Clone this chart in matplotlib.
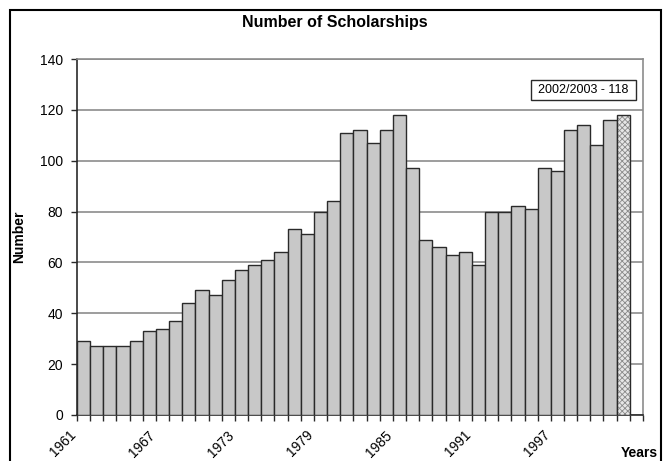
import numpy as np
import matplotlib.pyplot as plt
import matplotlib.transforms as mtransforms
from matplotlib.patches import Rectangle

plt.rcParams['font.family'] = ['Liberation Sans', 'DejaVu Sans']
plt.rcParams['hatch.linewidth'] = 0.6

years = list(range(1961, 2003))
scholarships = [29, 27, 27, 27, 29, 33, 34, 37, 44, 49, 47, 53, 57, 59, 61, 64,
                73, 71, 80, 84, 111, 112, 107, 112, 118, 97, 69, 66, 63, 64, 59,
                80, 80, 82, 81, 97, 96, 112, 114, 106, 116, 118]
label_years = [1961, 1967, 1973, 1979, 1985, 1991, 1997]
y_ticks = [0, 20, 40, 60, 80, 100, 120, 140]

fig = plt.figure(figsize=(6.67, 4.61), dpi=100)
ax = fig.add_axes([0.1154, 0.0998, 0.8486, 0.7722])

x = np.arange(len(years))
# ordinary years
ax.bar(x[:-1], scholarships[:-1], width=1.0, align='edge', color='#c8c8c8',
       edgecolor='#2a2a2a', linewidth=1.0, zorder=3)
# latest year, hatched
ax.bar(x[-1:], scholarships[-1:], width=1.0, align='edge', color='#e6e6e6',
       edgecolor='#8a8a8a', hatch='xxxxxx', linewidth=0, zorder=3)
ax.bar(x[-1:], scholarships[-1:], width=1.0, align='edge', fill=False,
       edgecolor='#2a2a2a', linewidth=1.0, zorder=4)

ax.set_xlim(0, len(years) + 1)
ax.set_ylim(0, 140)
ax.set_yticks(y_ticks)
ax.set_yticklabels([str(v) for v in y_ticks], fontsize=10)
ax.yaxis.grid(True, color='#8c8c8c', linewidth=1.2, zorder=0)
ax.set_axisbelow(True)

# category boundaries as tick marks
ax.set_xticks(np.arange(0, len(years) + 2))
ax.set_xticklabels([])
ax.tick_params(axis='x', length=4, width=1, color='#2a2a2a')
ax.tick_params(axis='y', length=4, width=1, color='#2a2a2a', pad=6)

# year labels, slanted, every sixth year
lab_trans = ax.get_xaxis_transform() + mtransforms.ScaledTranslation(
    -0.15, -0.13, fig.dpi_scale_trans)
for yr in label_years:
    ax.text(years.index(yr) + 0.5, 0, str(yr), transform=lab_trans,
            rotation=45, rotation_mode='anchor', ha='right', va='top',
            fontsize=10, clip_on=False)

for side in ['top', 'right']:
    ax.spines[side].set_color('#8c8c8c')
    ax.spines[side].set_linewidth(1.2)
for side in ['left', 'bottom']:
    ax.spines[side].set_color('#2a2a2a')
    ax.spines[side].set_linewidth(1.2)

ax.set_ylabel('Number', fontsize=10, fontweight='bold', labelpad=10)
fig.text(0.502, 0.952, 'Number of Scholarships', ha='center', va='center',
         fontsize=11.5, fontweight='bold')
fig.text(0.958, 0.018, 'Years', ha='center', va='center', fontsize=10,
         fontweight='bold')

# note box for the latest year
ax.add_patch(Rectangle((0.802, 0.885), 0.186, 0.056, transform=ax.transAxes,
                       facecolor='white', edgecolor='#2a2a2a', linewidth=1.0,
                       zorder=6))
ax.text(0.895, 0.913, '2002/2003 - 118', transform=ax.transAxes, ha='center',
        va='center', fontsize=9, zorder=7)

# outer frame
fig.patches.append(Rectangle((0.015, -0.05), 0.976, 1.028,
                             transform=fig.transFigure, fill=False,
                             edgecolor='black', linewidth=1.5))

fig.savefig('out.png', dpi=100)
